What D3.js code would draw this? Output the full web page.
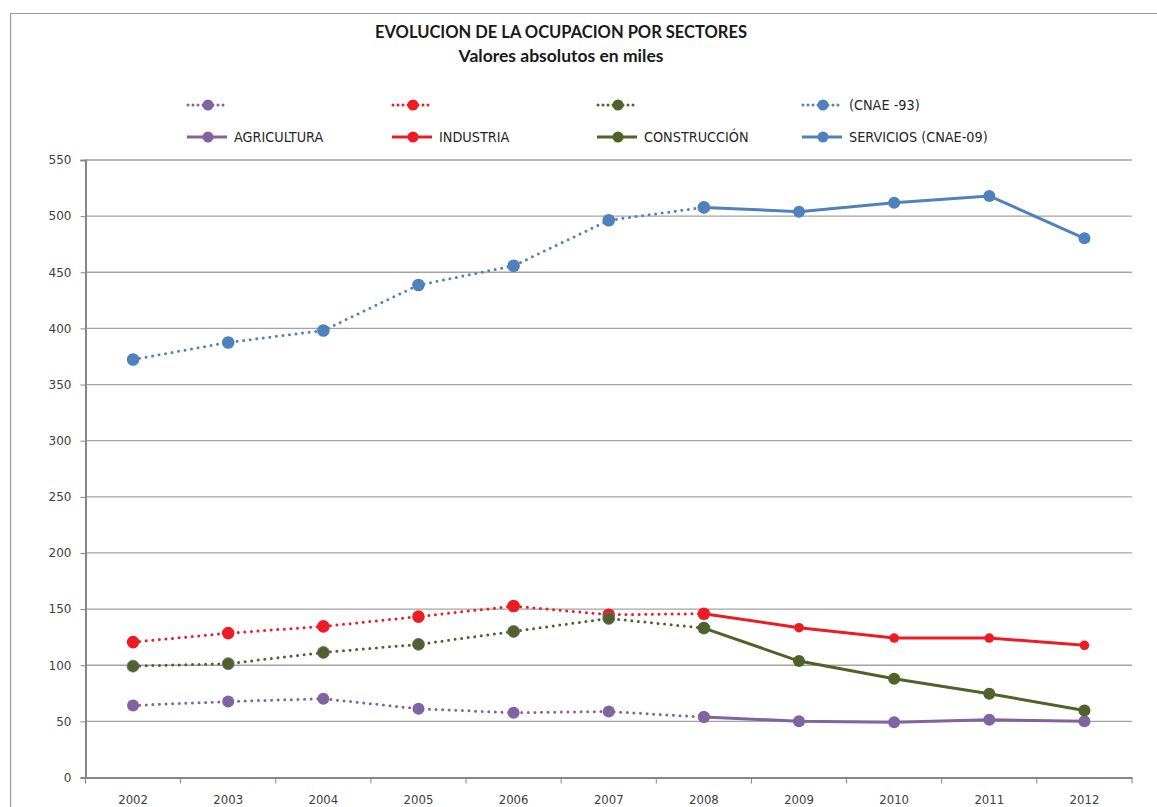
<!DOCTYPE html>
<html><head><meta charset="utf-8">
<script src="https://cdn.jsdelivr.net/npm/d3@7"></script>
<style>body{margin:0;background:#fff}svg{display:block}</style>
</head><body>
<svg id="c" width="1157" height="807"></svg>
<script>
const years = ["2002","2003","2004","2005","2006","2007","2008","2009","2010","2011","2012"];
// CNAE-93 (dotted) 2002-2008
const agriculturaCNAE93 = [64.2, 67.7, 70.2, 61.2, 57.7, 58.8, 53.8, null, null, null, null];
const industriaCNAE93   = [120.6, 128.6, 134.6, 143.3, 152.7, 145.0, 145.9, null, null, null, null];
const construccionCNAE93= [99.2, 101.4, 111.4, 118.6, 130.1, 141.7, 133.1, null, null, null, null];
const serviciosCNAE93   = [372.3, 387.5, 398.2, 438.6, 455.8, 496.3, 507.8, null, null, null, null];
// CNAE-09 (solid) 2008-2012
const agricultura  = [null, null, null, null, null, null, 53.8, 50.2, 49.3, 51.4, 50.2];
const industria    = [null, null, null, null, null, null, 145.9, 133.4, 124.2, 124.2, 117.7];
const construccion = [null, null, null, null, null, null, 133.1, 103.7, 88.0, 74.6, 59.7];
const servicios    = [null, null, null, null, null, null, 507.8, 504.0, 512.0, 518.0, 480.2];
const yTicks = [0,50,100,150,200,250,300,350,400,450,500,550];
const titleLines = ["EVOLUCION DE LA OCUPACION POR SECTORES", "Valores absolutos en miles"];

const colors = {agri:"#8064A2", ind:"#ED1C24", con:"#4F6228", ser:"#4F81BD"};
const series = [
  {name:"", data:agriculturaCNAE93, color:colors.agri, dotted:true, r:6},
  {name:"", data:industriaCNAE93, color:colors.ind, dotted:true, r:6.3},
  {name:"", data:construccionCNAE93, color:colors.con, dotted:true, r:6, stroke:colors.agri},
  {name:"(CNAE -93)", data:serviciosCNAE93, color:colors.ser, dotted:true, r:6.3},
  {name:"AGRICULTURA", data:agricultura, color:colors.agri, dotted:false, r:6},
  {name:"INDUSTRIA", data:industria, color:colors.ind, dotted:false, r:4.8},
  {name:"CONSTRUCCIÓN", data:construccion, color:colors.con, dotted:false, r:6},
  {name:"SERVICIOS (CNAE-09)", data:servicios, color:colors.ser, dotted:false, r:6}
];

const svg = d3.select("#c");
// outer frame
svg.append("path").attr("d","M10.5,807 V13.5 H1157").attr("fill","none").attr("stroke","#9a9a9a").attr("stroke-width",1.2);

const pLeft=85.5, pRight=1132, pTop=160, pBottom=777.5;
const x = d3.scaleBand().domain(years).range([pLeft,pRight]);
const y = d3.scaleLinear().domain([0,550]).range([pBottom,pTop]);

// gridlines
svg.append("g").selectAll("line").data(yTicks.filter(d=>d>0)).join("line")
  .attr("x1",pLeft).attr("x2",pRight).attr("y1",d=>y(d)).attr("y2",d=>y(d))
  .attr("stroke","#a3a3a3").attr("stroke-width",1.3);

// y axis
const ya = svg.append("g").attr("transform",`translate(${pLeft},0)`)
  .call(d3.axisLeft(y).tickValues(yTicks).tickSize(5).tickPadding(9));
ya.select(".domain").attr("stroke","#868686").attr("stroke-width",2);
ya.selectAll(".tick line").attr("stroke","#868686");
ya.selectAll("text").attr("font-family","DejaVu Sans").attr("font-size",12).attr("fill","#404040");

// x axis
const xa = svg.append("g").attr("transform",`translate(0,${pBottom})`)
  .call(d3.axisBottom(x).tickSize(0).tickPadding(0));
xa.select(".domain").attr("stroke","#868686").attr("stroke-width",2);
xa.selectAll(".tick line").remove();
xa.selectAll("text").attr("font-family","DejaVu Sans Condensed").attr("font-size",13).attr("fill","#404040").attr("dy",null).attr("y",26);
// category boundary ticks
const bounds = years.map(d=>x(d)).concat([pRight]);
svg.append("g").selectAll("line").data(bounds).join("line")
  .attr("x1",d=>d).attr("x2",d=>d).attr("y1",pBottom).attr("y2",pBottom+6)
  .attr("stroke","#868686").attr("stroke-width",1);

const cx = d=>x(d)+x.bandwidth()/2;
const line = d3.line().defined(d=>d.v!=null).x(d=>cx(d.year)).y(d=>y(d.v));

series.forEach(s=>{
  const pts = years.map((yr,i)=>({year:yr, v:s.data[i]}));
  svg.append("path").datum(pts).attr("d",line).attr("fill","none")
    .attr("stroke",s.color).attr("stroke-width",3)
    .attr("stroke-linecap", s.dotted?"round":"butt")
    .attr("stroke-dasharray", s.dotted?"0,6.6":null);
  svg.append("g").selectAll("circle").data(pts.filter(p=>p.v!=null)).join("circle")
    .attr("cx",p=>cx(p.year)).attr("cy",p=>y(p.v)).attr("r",s.r)
    .attr("fill",s.color)
    .attr("stroke",s.stroke||"none").attr("stroke-width",s.stroke?0.8:0);
});

// legend
const legX = [187, 392, 597, 802];
series.forEach((s,i)=>{
  const col=i%4, row=Math.floor(i/4);
  const lx=legX[col], ly= row===0?105:137;
  const g = svg.append("g");
  g.append("line").attr("x1",lx+ (s.dotted?1:0)).attr("x2",lx+40).attr("y1",ly).attr("y2",ly)
    .attr("stroke",s.color).attr("stroke-width",3)
    .attr("stroke-linecap", s.dotted?"round":"butt")
    .attr("stroke-dasharray", s.dotted?"0,5":null);
  g.append("circle").attr("cx",lx+21).attr("cy",ly).attr("r",5.5).attr("fill",s.color);
  if(s.name) g.append("text").attr("x",lx+47).attr("y",ly+5)
    .attr("font-family","DejaVu Sans Condensed").attr("font-size",14.3).attr("fill","#262626").text(s.name);
});

// title
svg.append("text").attr("x",561).attr("y",38).attr("text-anchor","middle")
  .attr("font-family","Lato").attr("font-weight","bold").attr("font-size",16.5).attr("fill","#1a1a1a").text(titleLines[0]);
svg.append("text").attr("x",561).attr("y",62).attr("text-anchor","middle")
  .attr("font-family","Lato").attr("font-weight","bold").attr("font-size",17.5).attr("fill","#1a1a1a").text(titleLines[1]);
</script>
</body></html>
